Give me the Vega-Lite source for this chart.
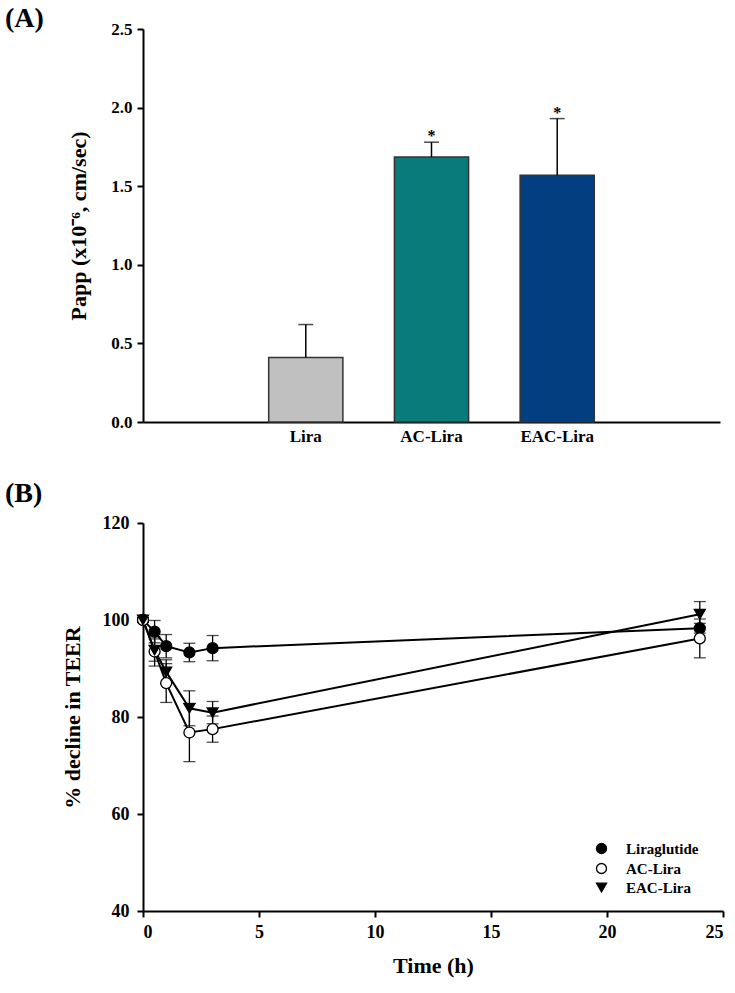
{
  "$schema": "https://vega.github.io/schema/vega-lite/v6.json",
  "background": "white",
  "padding": 5,
  "config": {
    "font": "Liberation Serif",
    "view": {"stroke": null},
    "axis": {"domainColor": "black", "domainWidth": 2, "tickColor": "black", "tickWidth": 2, "tickSize": 6, "labelFont": "Liberation Serif", "labelFontWeight": "bold", "labelFontSize": 17, "labelColor": "black", "titleFont": "Liberation Serif", "titleFontWeight": "bold", "titleFontSize": 17, "titleColor": "black", "grid": false},
    "title": {"font": "Liberation Serif", "fontSize": 28, "fontWeight": "bold", "color": "black", "anchor": "start", "frame": "group"},
    "concat": {"spacing": 36}
  },
  "resolve": {"scale": {"fill": "independent", "shape": "independent"}, "legend": {"fill": "independent", "shape": "independent"}},
  "vconcat": [
    {
      "title": {"text": "(A)", "dx": -138, "offset": -13},
      "width": 577,
      "height": 393,
      "data": {"values": [
        {"group": "Lira", "papp": 0.41, "upper": 0.62, "sig": ""},
        {"group": "AC-Lira", "papp": 1.685, "upper": 1.78, "sig": "*"},
        {"group": "EAC-Lira", "papp": 1.57, "upper": 1.93, "sig": "*"}
      ]},
      "encoding": {
        "x": {"field": "group", "type": "nominal", "sort": null,
          "scale": {"domain": ["Lira", "AC-Lira", "EAC-Lira"], "paddingInner": 0.41, "paddingOuter": 1.2},
          "axis": {"title": null, "ticks": false, "labelAngle": 0, "labelPadding": 6}}
      },
      "layer": [
        {"mark": {"type": "bar", "stroke": "#333333", "strokeWidth": 1.5},
         "encoding": {
           "y": {"field": "papp", "type": "quantitative", "scale": {"domain": [0, 2.5], "nice": false},
                 "axis": {"title": "Papp (x10⁻⁶, cm/sec)", "values": [0, 0.5, 1, 1.5, 2, 2.5], "format": ".1f", "labelPadding": 5, "titlePadding": 20, "titleFontSize": 22}},
           "fill": {"field": "group", "type": "nominal", "scale": {"domain": ["Lira", "AC-Lira", "EAC-Lira"], "range": ["#c0c0c0", "#0a7b7b", "#033f80"]}, "legend": null}
         }},
        {"mark": {"type": "rule", "color": "black", "strokeWidth": 1.5},
         "encoding": {"y": {"field": "papp", "type": "quantitative"}, "y2": {"field": "upper"}}},
        {"mark": {"type": "tick", "color": "black", "thickness": 1.5, "size": 15, "orient": "horizontal"},
         "encoding": {"y": {"field": "upper", "type": "quantitative"}}},
        {"mark": {"type": "text", "baseline": "alphabetic", "dy": -1, "fontSize": 16, "fontWeight": "bold", "font": "Liberation Serif", "color": "black"},
         "encoding": {"y": {"field": "upper", "type": "quantitative"}, "text": {"field": "sig"}}}
      ]
    },
    {
      "title": {"text": "(B)", "dx": -138, "offset": 6},
      "width": 580,
      "height": 388,
      "data": {"values": [
        {"series": "Liraglutide", "time": 0, "teer": 100, "err": 0.5},
        {"series": "Liraglutide", "time": 0.5, "teer": 97.6, "err": 2.3},
        {"series": "Liraglutide", "time": 1, "teer": 94.6, "err": 2.4},
        {"series": "Liraglutide", "time": 2, "teer": 93.3, "err": 1.9},
        {"series": "Liraglutide", "time": 3, "teer": 94.2, "err": 2.6},
        {"series": "Liraglutide", "time": 24, "teer": 98.3, "err": 1.0},
        {"series": "AC-Lira", "time": 0, "teer": 100, "err": 0.5},
        {"series": "AC-Lira", "time": 0.5, "teer": 93.5, "err": 3.0},
        {"series": "AC-Lira", "time": 1, "teer": 87.0, "err": 4.0},
        {"series": "AC-Lira", "time": 2, "teer": 76.8, "err": 6.0},
        {"series": "AC-Lira", "time": 3, "teer": 77.5, "err": 2.7},
        {"series": "AC-Lira", "time": 24, "teer": 96.2, "err": 4.0},
        {"series": "EAC-Lira", "time": 0, "teer": 100, "err": 0.5},
        {"series": "EAC-Lira", "time": 0.5, "teer": 93.8, "err": 2.3},
        {"series": "EAC-Lira", "time": 1, "teer": 89.3, "err": 2.5},
        {"series": "EAC-Lira", "time": 2, "teer": 81.8, "err": 3.6},
        {"series": "EAC-Lira", "time": 3, "teer": 80.9, "err": 2.3},
        {"series": "EAC-Lira", "time": 24, "teer": 101.2, "err": 2.6}
      ]},
      "encoding": {
        "x": {"field": "time", "type": "quantitative", "scale": {"domain": [0, 25], "nice": false},
              "axis": {"title": "Time (h)", "values": [0, 5, 10, 15, 20, 25], "labelFontSize": 18, "titleFontSize": 22, "labelPadding": 6, "titlePadding": 14}}
      },
      "layer": [
        {"mark": {"type": "errorbar", "color": "black", "thickness": 1.3, "ticks": {"size": 12, "thickness": 1.3, "color": "black"}},
         "encoding": {
           "y": {"field": "teer", "type": "quantitative", "scale": {"domain": [40, 120], "nice": false},
                 "axis": {"title": "% decline in TEER", "values": [40, 60, 80, 100, 120], "labelFontSize": 18, "titleFontSize": 22, "labelPadding": 8, "titlePadding": 18}},
           "yError": {"field": "err"}
         }},
        {"mark": {"type": "line", "color": "black", "strokeWidth": 2},
         "encoding": {
           "y": {"field": "teer", "type": "quantitative"},
           "detail": {"field": "series"}
         }},
        {"mark": {"type": "point", "stroke": "black", "strokeWidth": 1.3, "size": 120, "opacity": 1},
         "encoding": {
           "y": {"field": "teer", "type": "quantitative"},
           "shape": {"field": "series", "type": "nominal", "scale": {"domain": ["Liraglutide", "AC-Lira", "EAC-Lira"], "range": ["circle", "circle", "triangle-down"]},
             "legend": {"title": null, "orient": "none", "legendX": 451, "legendY": 318, "padding": 0, "symbolSize": 100, "symbolStrokeWidth": 1.3, "labelFont": "Liberation Serif", "labelFontWeight": "bold", "labelFontSize": 15, "labelColor": "black", "labelOffset": 17, "rowPadding": 3,
               "encode": {"symbols": {"stroke": {"value": "black"}, "strokeWidth": {"value": 1.3}}}}},
           "fill": {"field": "series", "type": "nominal", "scale": {"domain": ["Liraglutide", "AC-Lira", "EAC-Lira"], "range": ["black", "white", "black"]},
             "legend": {"title": null, "orient": "none", "legendX": 451, "legendY": 318, "padding": 0, "symbolSize": 100, "symbolStrokeWidth": 1.3, "labelFont": "Liberation Serif", "labelFontWeight": "bold", "labelFontSize": 15, "labelColor": "black", "labelOffset": 17, "rowPadding": 3,
               "encode": {"symbols": {"stroke": {"value": "black"}, "strokeWidth": {"value": 1.3}}}}}
         }}
      ]
    }
  ]
}
